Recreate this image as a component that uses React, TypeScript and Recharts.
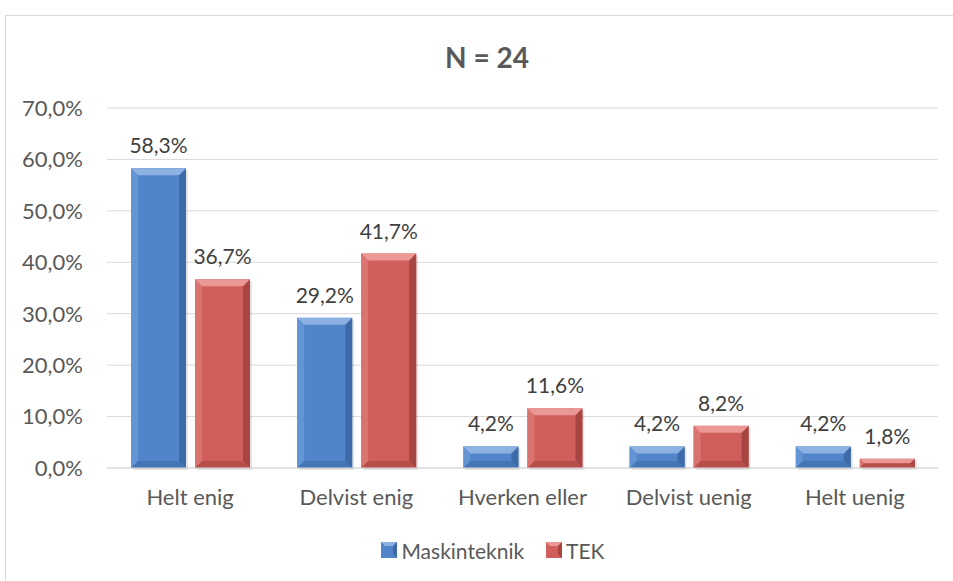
import React from 'react'
import {
  BarChart,
  Bar,
  XAxis,
  YAxis,
  CartesianGrid,
  Legend,
  LabelList,
} from 'recharts'

const categories = ['Helt enig', 'Delvist enig', 'Hverken eller', 'Delvist uenig', 'Helt uenig']
const maskinteknik = [58.3, 29.2, 4.2, 4.2, 4.2]
const tek = [36.7, 41.7, 11.6, 8.2, 1.8]
const yTicks = [0, 10, 20, 30, 40, 50, 60, 70]

const data = categories.map((name, i) => ({
  name,
  Maskinteknik: maskinteknik[i],
  TEK: tek[i],
}))

const BLUE = { fill: '#5184c8', light: '#8cb1e2', dark: '#3d6aa8', side: '#6394d4' }
const RED = { fill: '#d05e5b', light: '#ea9795', dark: '#a64542', side: '#da7471' }

const pct = (v: number) => v.toFixed(1).replace('.', ',') + '%'

const FONT = 'Lato, "Open Sans", sans-serif'
const TEXT = '#595959'

const BevelBar = (props: any) => {
  const { x, y, width, height, c } = props
  if (!height || height <= 0) return null
  const b = Math.min(7, height / 2, width / 2)
  return (
    <g>
      <rect x={x + 2} y={y + 2} width={width} height={height} fill="#000" opacity={0.1} />
      <rect x={x} y={y} width={width} height={height} fill={c.fill} />
      {/* left edge */}
      <polygon points={`${x},${y} ${x + b},${y + b} ${x + b},${y + height - b} ${x},${y + height}`} fill={c.side} />
      {/* right edge */}
      <polygon
        points={`${x + width},${y} ${x + width - b},${y + b} ${x + width - b},${y + height - b} ${x + width},${y + height}`}
        fill={c.dark}
      />
      {/* top bevel */}
      <polygon points={`${x},${y} ${x + width},${y} ${x + width - b},${y + b} ${x + b},${y + b}`} fill={c.light} />
      {/* bottom */}
      <polygon
        points={`${x},${y + height} ${x + width},${y + height} ${x + width - b},${y + height - b} ${x + b},${y + height - b}`}
        fill={c.dark}
        opacity={0.6}
      />
    </g>
  )
}

const LegendContent = (props: any) => {
  const items = props.payload || []
  return (
    <div
      style={{
        display: 'flex',
        justifyContent: 'center',
        alignItems: 'center',
        height: 30,
        paddingLeft: 24,
        fontFamily: FONT,
        fontSize: 21,
        color: TEXT,
        gap: 22,
      }}
    >
      {items.map((it: any) => {
        const c = it.value === 'TEK' ? RED : BLUE
        return (
          <span key={it.value} style={{ display: 'flex', alignItems: 'center' }}>
            <svg width={16} height={16} style={{ marginRight: 4 }}>
              <rect x={0} y={0} width={16} height={16} fill={c.fill} />
              <polygon points="0,0 16,0 12,4 4,4" fill={c.light} />
              <polygon points="16,0 12,4 12,12 16,16" fill={c.dark} />
            </svg>
            {it.value}
          </span>
        )
      })}
    </div>
  )
}

export default function App() {
  return (
    <div style={{ position: 'fixed', left: 5, top: 15, width: 948, height: 566, overflow: 'hidden', background: '#fff' }}>
      <div style={{ position: 'relative', width: 970, height: 600, border: '1px solid #d9d9d9', background: '#fff' }}>
        <div
          style={{
            position: 'absolute',
            left: 0,
            top: 26,
            width: 962,
            textAlign: 'center',
            fontFamily: FONT,
            fontWeight: 700,
            fontSize: 28,
            lineHeight: '30px',
            color: TEXT,
          }}
        >
          N = 24
        </div>
        <BarChart
          width={950}
          height={565}
          data={data}
          margin={{ top: 92, right: 18, left: 26, bottom: 23 }}
          barCategoryGap={24}
          barGap={9}
        >
          <CartesianGrid vertical={false} stroke="#d9d9d9" />
          <XAxis
            dataKey="name"
            height={60}
            tickSize={0}
            tickMargin={21}
            axisLine={{ stroke: '#d9d9d9' }}
            tickLine={false}
            tick={{ fontSize: 22, fill: TEXT, fontFamily: FONT }}
          />
          <YAxis
            width={75}
            domain={[0, 70]}
            ticks={yTicks}
            tickFormatter={pct}
            axisLine={false}
            tickLine={false}
            tickSize={0}
            tickMargin={24}
            tick={{ fontSize: 22, fill: TEXT, fontFamily: FONT }}
          />
          <Legend
            verticalAlign="bottom"
            height={30}
            wrapperStyle={{ top: 519, left: 0, width: 950 }}
            content={<LegendContent />}
          />
          <Bar dataKey="Maskinteknik" isAnimationActive={false} shape={(p: any) => <BevelBar {...p} c={BLUE} />}>
            <LabelList
              dataKey="Maskinteknik"
              position="top"
              offset={15}
              formatter={(v: any) => pct(Number(v))}
              style={{ fontSize: 21, fill: '#404040', fontFamily: FONT }}
            />
          </Bar>
          <Bar dataKey="TEK" isAnimationActive={false} shape={(p: any) => <BevelBar {...p} c={RED} />}>
            <LabelList
              dataKey="TEK"
              position="top"
              offset={15}
              formatter={(v: any) => pct(Number(v))}
              style={{ fontSize: 21, fill: '#404040', fontFamily: FONT }}
            />
          </Bar>
        </BarChart>
      </div>
    </div>
  )
}
